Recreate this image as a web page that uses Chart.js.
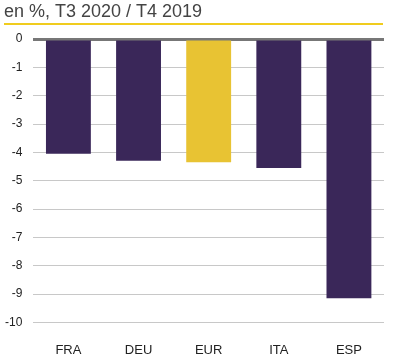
<!DOCTYPE html>
<html>
<head>
<meta charset="utf-8">
<script src="https://cdn.jsdelivr.net/npm/chart.js@4"></script>
<style>
  html, body { margin: 0; padding: 0; background: #fff; }
  #wrap { width: 400px; height: 360px; }
</style>
</head>
<body>
<div id="wrap"><canvas id="chart"></canvas></div>
<script>
// Data
const countries = ['FRA', 'DEU', 'EUR', 'ITA', 'ESP'];
const changes = [-4.05, -4.3, -4.35, -4.55, -9.15];
const barColors = ['#3a2759', '#3a2759', '#e8c333', '#3a2759', '#3a2759'];
const titleText = 'en %, T3 2020 / T4 2019';

// Title and yellow rule above the plot
const headerPlugin = {
    id: 'header',
    afterDraw(chart) {
        const ctx = chart.ctx;
        ctx.save();
        ctx.fillStyle = '#444';
        ctx.font = '18px "Liberation Sans Narrow", "Liberation Sans", Arial, sans-serif';
        ctx.textBaseline = 'alphabetic';
        ctx.fillText(titleText, 4, 17);
        ctx.strokeStyle = '#f0cc1e';
        ctx.lineWidth = 2;
        ctx.beginPath();
        ctx.moveTo(4, 24);
        ctx.lineTo(383, 24);
        ctx.stroke();
        ctx.restore();
    }
};

new Chart(document.getElementById('chart'), {
    type: 'bar',
    data: {
        labels: countries,
        datasets: [{
            data: changes,
            backgroundColor: barColors,
            barPercentage: 0.64,
            categoryPercentage: 1.0
        }]
    },
    options: {
        responsive: true,
        maintainAspectRatio: false,
        animation: false,
        layout: { padding: { top: 39, right: 16, left: -6, bottom: -18 } },
        plugins: {
            legend: { display: false },
            tooltip: { enabled: false }
        },
        scales: {
            x: {
                grid: { display: false, drawTicks: false },
                border: { display: false },
                ticks: {
                    color: '#222',
                    padding: 20,
                    font: { size: 13, family: '"Liberation Sans Narrow", "Liberation Sans", Arial, sans-serif' }
                }
            },
            y: {
                min: -10,
                max: 0,
                ticks: {
                    stepSize: 1,
                    color: '#222',
                    padding: 11,
                    font: { size: 12, family: '"Liberation Sans", Arial, sans-serif' }
                },
                border: { display: false },
                grid: {
                    drawTicks: false,
                    color: (c) => c.tick && c.tick.value === 0 ? '#777' : '#c8c8c8',
                    lineWidth: (c) => c.tick && c.tick.value === 0 ? 3 : 1
                }
            }
        }
    },
    plugins: [headerPlugin]
});
</script>
</body>
</html>
